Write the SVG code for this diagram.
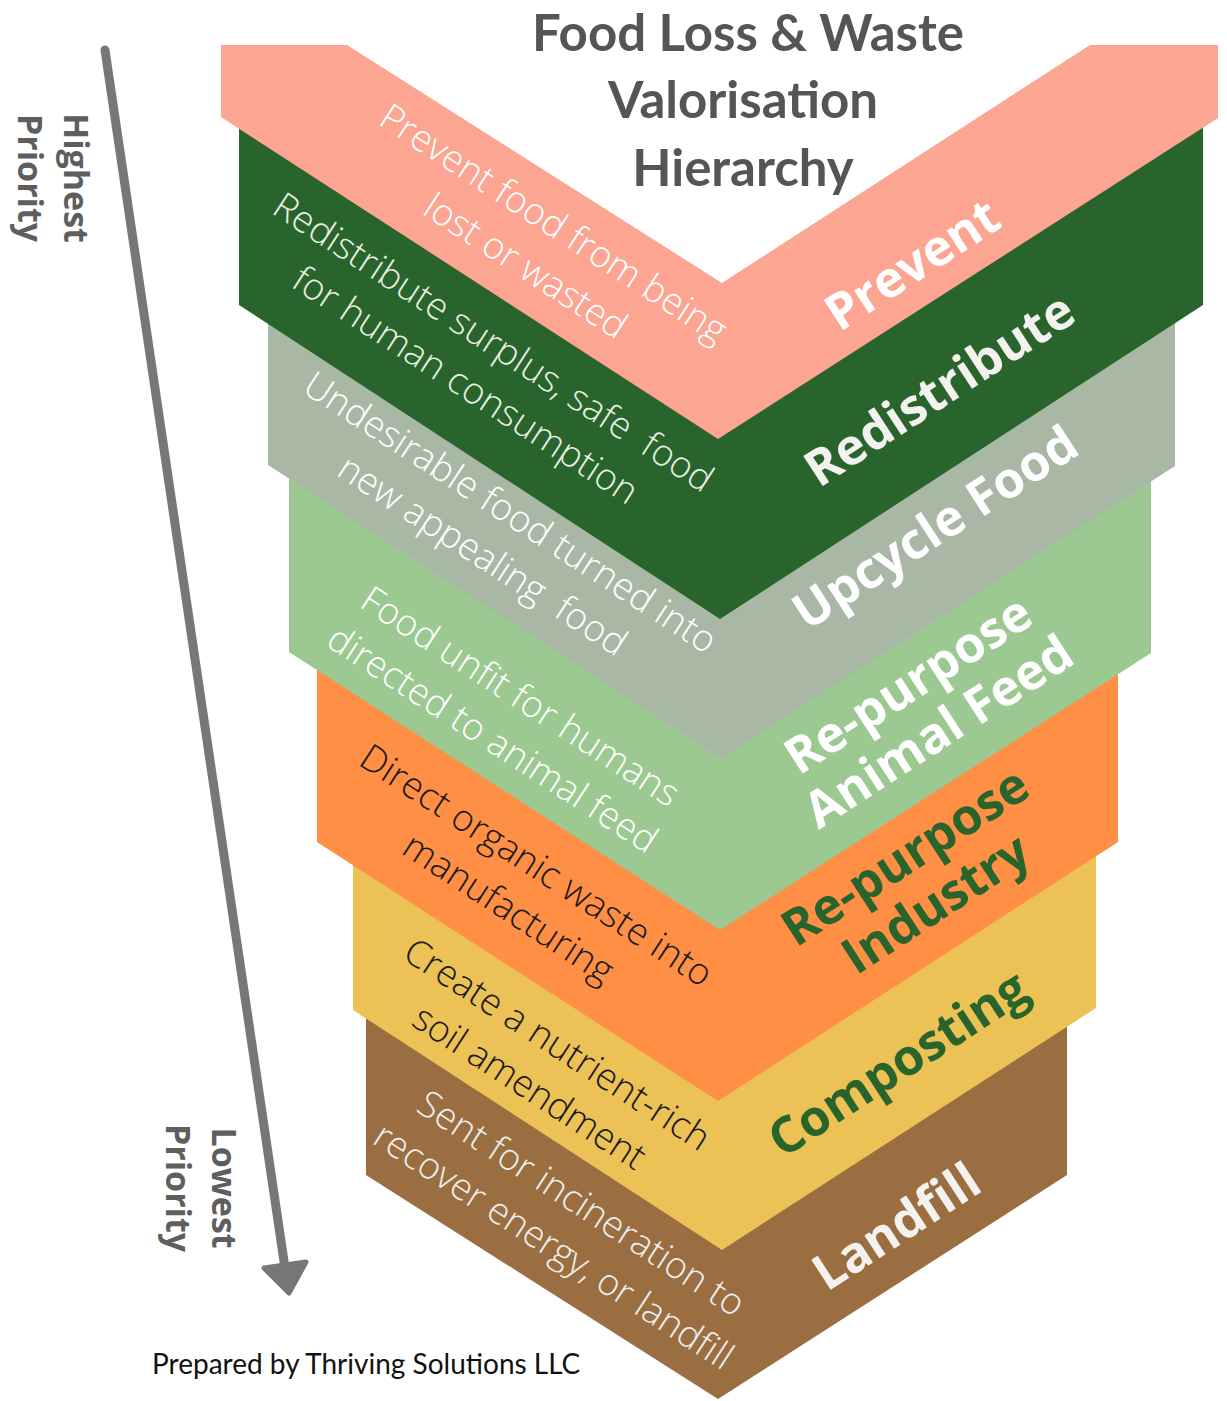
<svg xmlns="http://www.w3.org/2000/svg" width="1227" height="1401" viewBox="0 0 1227 1401">
  <style>
    .title { font-family: "Lato", "Liberation Sans", sans-serif; font-weight: 700; font-size: 51px; fill: #555555; text-anchor: middle; }
    .desc { font-family: "Open Sans", "Liberation Sans", sans-serif; font-weight: 300; font-size: 37px; text-anchor: middle; }
    .label { font-family: "Open Sans", "Liberation Sans", sans-serif; font-weight: 700; font-size: 50px; text-anchor: middle; }
    .side { font-family: "Open Sans", "Liberation Sans", sans-serif; font-weight: 700; font-size: 34px; fill: #5e5e5e; text-anchor: middle; }
    .footer { font-family: "Lato", "Liberation Sans", sans-serif; font-size: 28px; fill: #111111; }
    .light { fill: #ffffff; }
    .dark { fill: #1a1a1a; }
    .green { fill: #28642c; }
  </style>

  <!-- Chevron bands, drawn lowest first so each upper band overlaps the next -->
  <g id="landfill">
    <polygon points="366,1013 722,1241 1067,1022 1067,1175 718,1399 366,1175" fill="#9a6e41"/>
    <g transform="translate(581,1204) rotate(33)">
      <text class="desc" fill="#eeeeee" x="0" y="12">Sent for incineration to</text>
      <text class="desc" fill="#eeeeee" x="0" y="63">recover energy, or landfill</text>
    </g>
    <text class="label" fill="#f3f2ee" transform="translate(896,1226) rotate(-33)" x="0" y="18">Landfill</text>
  </g>

  <g id="composting">
    <polygon points="353,860 718,1092 1096,851 1096,1008 722,1250 353,1010" fill="#ecc155"/>
    <g transform="translate(557,1045) rotate(33)">
      <text class="desc dark" x="0" y="12">Create a nutrient-rich</text>
      <text class="desc dark" x="0" y="63">soil amendment</text>
    </g>
    <text class="label green" transform="translate(901,1068) rotate(-33)" x="0" y="12">Composting</text>
  </g>

  <g id="repurpose-industry">
    <polygon points="317,665 720,921 1118,669 1118,842 718,1101 317,842" fill="#fe8f45"/>
    <g transform="translate(536,866) rotate(33)">
      <text class="desc dark" x="0" y="12">Direct organic waste into</text>
      <text class="desc dark" x="0" y="63">manufacturing</text>
    </g>
    <g transform="translate(908,861) rotate(-33)">
      <text class="label green" x="0" y="12">Re-purpose</text>
      <text class="label green" x="0" y="68">Industry</text>
    </g>
  </g>

  <g id="repurpose-animal-feed">
    <polygon points="289,474 721,749 1151,476 1151,653 720,930 289,652" fill="#9cc891"/>
    <g transform="translate(520,697) rotate(33)">
      <text class="desc light" x="0" y="12">Food unfit for humans</text>
      <text class="desc light" x="0" y="63">directed to animal feed</text>
    </g>
    <g transform="translate(911,689) rotate(-33)">
      <text class="label light" x="0" y="12">Re-purpose</text>
      <text class="label light" x="0" y="68">Animal Feed</text>
    </g>
  </g>

  <g id="upcycle-food">
    <polygon points="268,319 720,610 1175,318 1175,466 721,758 268,465" fill="#a9b8a5"/>
    <g transform="translate(510,513) rotate(33)">
      <text class="desc light" x="0" y="12">Undesirable food turned into</text>
      <text class="desc light" x="0" y="63" xml:space="preserve">new appealing  food</text>
    </g>
    <text class="label light" transform="translate(938,532) rotate(-33)" x="0" y="12">Upcycle Food</text>
  </g>

  <g id="redistribute">
    <polygon points="239,124 718,430 1203,123 1203,305 720,619 239,305" fill="#28642c"/>
    <g transform="translate(493,343) rotate(33)">
      <text class="desc" fill="#e8efe5" x="0" y="12" xml:space="preserve">Redistribute surplus, safe  food</text>
      <text class="desc" fill="#e8efe5" x="0" y="63">for human consumption</text>
    </g>
    <text class="label" fill="#f3f2ee" transform="translate(939,389) rotate(-33)" x="0" y="18">Redistribute</text>
  </g>

  <g id="prevent">
    <polygon points="221,45 347,45 722,283 1090,45 1218,45 1218,118 718,439 221,117" fill="#fba592"/>
    <g transform="translate(553,224) rotate(33)">
      <text class="desc light" x="0" y="12">Prevent food from being</text>
      <text class="desc light" x="0" y="63">lost or wasted</text>
    </g>
    <text class="label light" transform="translate(912,264) rotate(-33)" x="0" y="18">Prevent</text>
  </g>

  <!-- Heading -->
  <g id="title">
    <text class="title" x="748" y="51">Food Loss &amp; Waste</text>
    <text class="title" x="743" y="118">Valorisation</text>
    <text class="title" x="743" y="186">Hierarchy</text>
  </g>

  <!-- Priority axis -->
  <g id="connectors">
    <line x1="105" y1="50" x2="285" y2="1268" stroke="#777777" stroke-width="9" stroke-linecap="round"/>
    <polygon points="289,1293 306,1262 264,1268" fill="#777777" stroke="#777777" stroke-width="5" stroke-linejoin="round"/>
  </g>

  <g id="highest-priority" transform="translate(64,178) rotate(90)">
    <text class="side" x="0" y="0">Highest</text>
    <text class="side" x="0" y="46">Priority</text>
  </g>

  <g id="lowest-priority" transform="translate(212,1188) rotate(90)">
    <text class="side" x="0" y="0">Lowest</text>
    <text class="side" x="0" y="46">Priority</text>
  </g>

  <text id="credit" class="footer" x="152" y="1374">Prepared by Thriving Solutions LLC</text>
</svg>
